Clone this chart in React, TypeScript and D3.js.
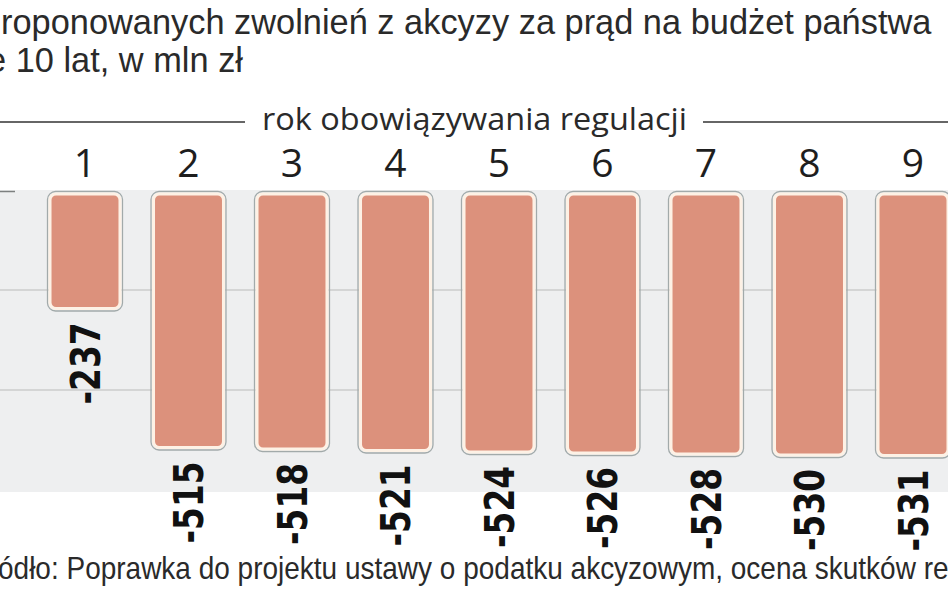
import React from "react";
import * as d3 from "d3";

// lata obowiązywania regulacji (10. rok ucięty na kadrze)
const years = ["1", "2", "3", "4", "5", "6", "7", "8", "9"];
const values = [-237, -515, -518, -521, -524, -526, -528, -530, -531];
const gridTicks = [-200, -400];

const titleLine1 = "roponowanych zwolnień z akcyzy za prąd na budżet państwa";
const titleLine2 = "e 10 lat, w mln zł";
const axisTitle = "rok obowiązywania regulacji";
const sourceText = "ódło: Poprawka do projektu ustawy o podatku akcyzowym, ocena skutków regulacji";

const W = 948;
const H = 593;

const BAR_FILL = "#dc917c";
const BAR_EDGE = "#fdf1e5";
const PANEL = "#eeeff0";

const App: React.FC = () => {
  const x = d3.scaleBand<string>()
    .domain(years)
    .range([33.25, 964.75])
    .paddingInner(0.324)
    .paddingOuter(0.162);

  const y = d3.scaleLinear().domain([0, -600]).range([190, 490]);

  const bw = x.bandwidth();

  return (
    <svg width={W} height={H} viewBox={`0 0 ${W} ${H}`}
      style={{ position: "absolute", left: 0, top: 0, background: "#fff" }}>
      {/* tytuł */}
      <g fontFamily="'Liberation Sans', Arial, sans-serif" fill="#2a2a2a" fontSize={36}>
        <text transform="translate(1,34) scale(0.955,1)">{titleLine1}</text>
        <text transform="translate(243,72) scale(0.955,1)" textAnchor="end">{titleLine2}</text>
      </g>

      {/* opis osi z liniami */}
      <line x1={0} x2={245} y1={122} y2={122} stroke="#666" strokeWidth={2} />
      <line x1={703} x2={W} y1={122} y2={122} stroke="#666" strokeWidth={2} />
      <text x={474.5} y={130} textAnchor="middle" fontFamily="'Open Sans', sans-serif"
        fontSize={31} fill="#2a2a2a" textLength={425} lengthAdjust="spacingAndGlyphs">
        {axisTitle}
      </text>

      {/* numery lat */}
      {years.map((d) => (
        <text key={d} x={x(d)! + bw / 2} y={177} textAnchor="middle"
          fontFamily="'Open Sans', sans-serif" fontSize={39} fill="#1e1e1e">
          {d}
        </text>
      ))}

      {/* tło wykresu */}
      <rect x={0} y={y(0)} width={W} height={y(-600) - y(0) + 2} fill={PANEL} />
      <line x1={0} x2={15} y1={y(0) + 1.5} y2={y(0) + 1.5} stroke="#7d8080" strokeWidth={1.5} />
      {gridTicks.map((t) => (
        <line key={t} x1={0} x2={W} y1={y(t)} y2={y(t)} stroke="#cbcdcd" strokeWidth={1.5} />
      ))}

      {/* słupki */}
      {values.map((v, i) => {
        const bx = x(years[i])!;
        const top = y(0) + 4;
        const h = y(v) - top;
        return (
          <g key={i}>
            <rect x={bx - 2.5} y={top - 2.5} width={bw + 5} height={h + 5} rx={8}
              fill="none" stroke="#a2aaaa" strokeWidth={1.3} />
            <rect x={bx} y={top} width={bw} height={h} rx={6}
              fill={BAR_FILL} stroke={BAR_EDGE} strokeWidth={3} />
          </g>
        );
      })}

      {/* etykiety wartości */}
      {values.map((v, i) => {
        const cx = x(years[i])! + bw / 2;
        return (
          <text key={i} transform={`translate(${cx + 14.5},${y(v) + 14}) rotate(-90)`}
            textAnchor="end" fontFamily="'DejaVu Sans Condensed', 'DejaVu Sans', sans-serif"
            fontWeight="bold" fontSize={40} fill="#111"
            textLength={82} lengthAdjust="spacingAndGlyphs">
            {d3.format("d")(v).replace("−", "-")}
          </text>
        );
      })}

      {/* źródło */}
      <text transform="translate(-2,579) scale(0.918,1)" fontFamily="'Liberation Sans', Arial, sans-serif"
        fontSize={30.5} fill="#2a2a2a">
        {sourceText}
      </text>
    </svg>
  );
};

export default App;
